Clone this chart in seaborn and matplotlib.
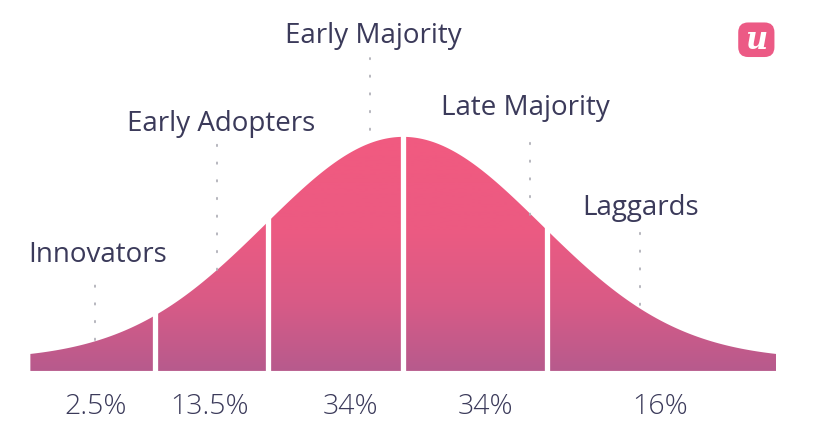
import numpy as np
import pandas as pd
import seaborn as sns
import matplotlib.pyplot as plt
from matplotlib.colors import LinearSegmentedColormap
from matplotlib.patches import Polygon, FancyBboxPatch

sns.set_theme(style="white")
plt.rcParams["font.family"] = ["Open Sans", "DejaVu Sans"]

# adopter groups, share of adopters and where the groups split (in std devs)
groups = ["Innovators", "Early Adopters", "Early Majority", "Late Majority", "Laggards"]
shares = ["2.5%", "13.5%", "34%", "34%", "16%"]
splits = [-1.8, -0.98, 0.0, 1.04]
floor = 0.05
z_range = (-2.70, 2.70)

# label layout (z, height)
label_pos = [(-2.21, 0.522), (-1.32, 1.108), (-0.217, 1.504), (0.884, 1.181), (1.717, 0.733)]
guide_x = [-2.23, -1.35, -0.239, 0.92, 1.717]
guide_span = [(0.139, 0.431), (0.453, 1.023), (1.081, 1.404), (0.70, 1.081), (0.296, 0.624)]
share_x = [-2.23, -1.40, -0.384, 0.594, 1.862]
share_y = -0.160

text_col = "#3b3a5a"


def bell(z):
    return floor + np.exp(-z ** 2 / 2)


z = np.linspace(z_range[0], z_range[1], 600)
curve = pd.DataFrame({"z": z, "h": bell(z)})

fig = plt.figure(figsize=(8.23, 4.32), dpi=100)
ax = fig.add_axes([0, 0, 1, 1])
ax.set_xlim(-2.92, 3.04)
ax.set_ylim(-0.274, 1.664)
ax.axis("off")

# gradient fill under the curve
cmap = LinearSegmentedColormap.from_list(
    "adopt", [(0, "#b75a8d"), (0.3, "#d95b86"), (0.6, "#ec5a82"), (1, "#f15a80")]
)
grad = np.linspace(0, 1, 256).reshape(-1, 1)
top = curve["h"].max()
img = ax.imshow(grad, cmap=cmap, origin="lower", aspect="auto",
                extent=[z_range[0], z_range[1], 0, top], zorder=1)
verts = np.vstack([[z_range[0], 0], np.column_stack([z, curve["h"]]), [z_range[1], 0]])
shape = Polygon(verts, closed=True, facecolor="none", edgecolor="none")
ax.add_patch(shape)
img.set_clip_path(shape)

# white gaps between the groups
for s in splits:
    ax.vlines(s, -0.01, bell(s) + 0.03, color="white", lw=3.8, zorder=3)

# dotted guides and group names
for name, (lx, ly), gx, (y0, y1) in zip(groups, label_pos, guide_x, guide_span):
    ax.plot([gx, gx], [y0, y1], color="#b0b0b8", lw=1.3,
            linestyle=(0, (0.8, 9)), dash_capstyle="round", zorder=2)
    ax.text(lx, ly, name, ha="center", va="center", fontsize=20, color=text_col)

for sx, label in zip(share_x, shares):
    ax.text(sx, share_y, label, ha="center", va="center", fontsize=20.5,
            color=text_col, fontweight="light")

# logo
logo = FancyBboxPatch((0.897, 0.868), 0.044, 0.080, boxstyle="round,pad=0,rounding_size=0.012",
                      transform=fig.transFigure, facecolor="#ec5a85", edgecolor="none",
                      mutation_aspect=1.9)
fig.patches.append(logo)
fig.text(0.919, 0.906, "u", ha="center", va="center", fontsize=22, color="white",
         fontstyle="italic", fontweight="bold", family=["DejaVu Serif"])

fig.savefig("out.png", dpi=100, facecolor="white")
